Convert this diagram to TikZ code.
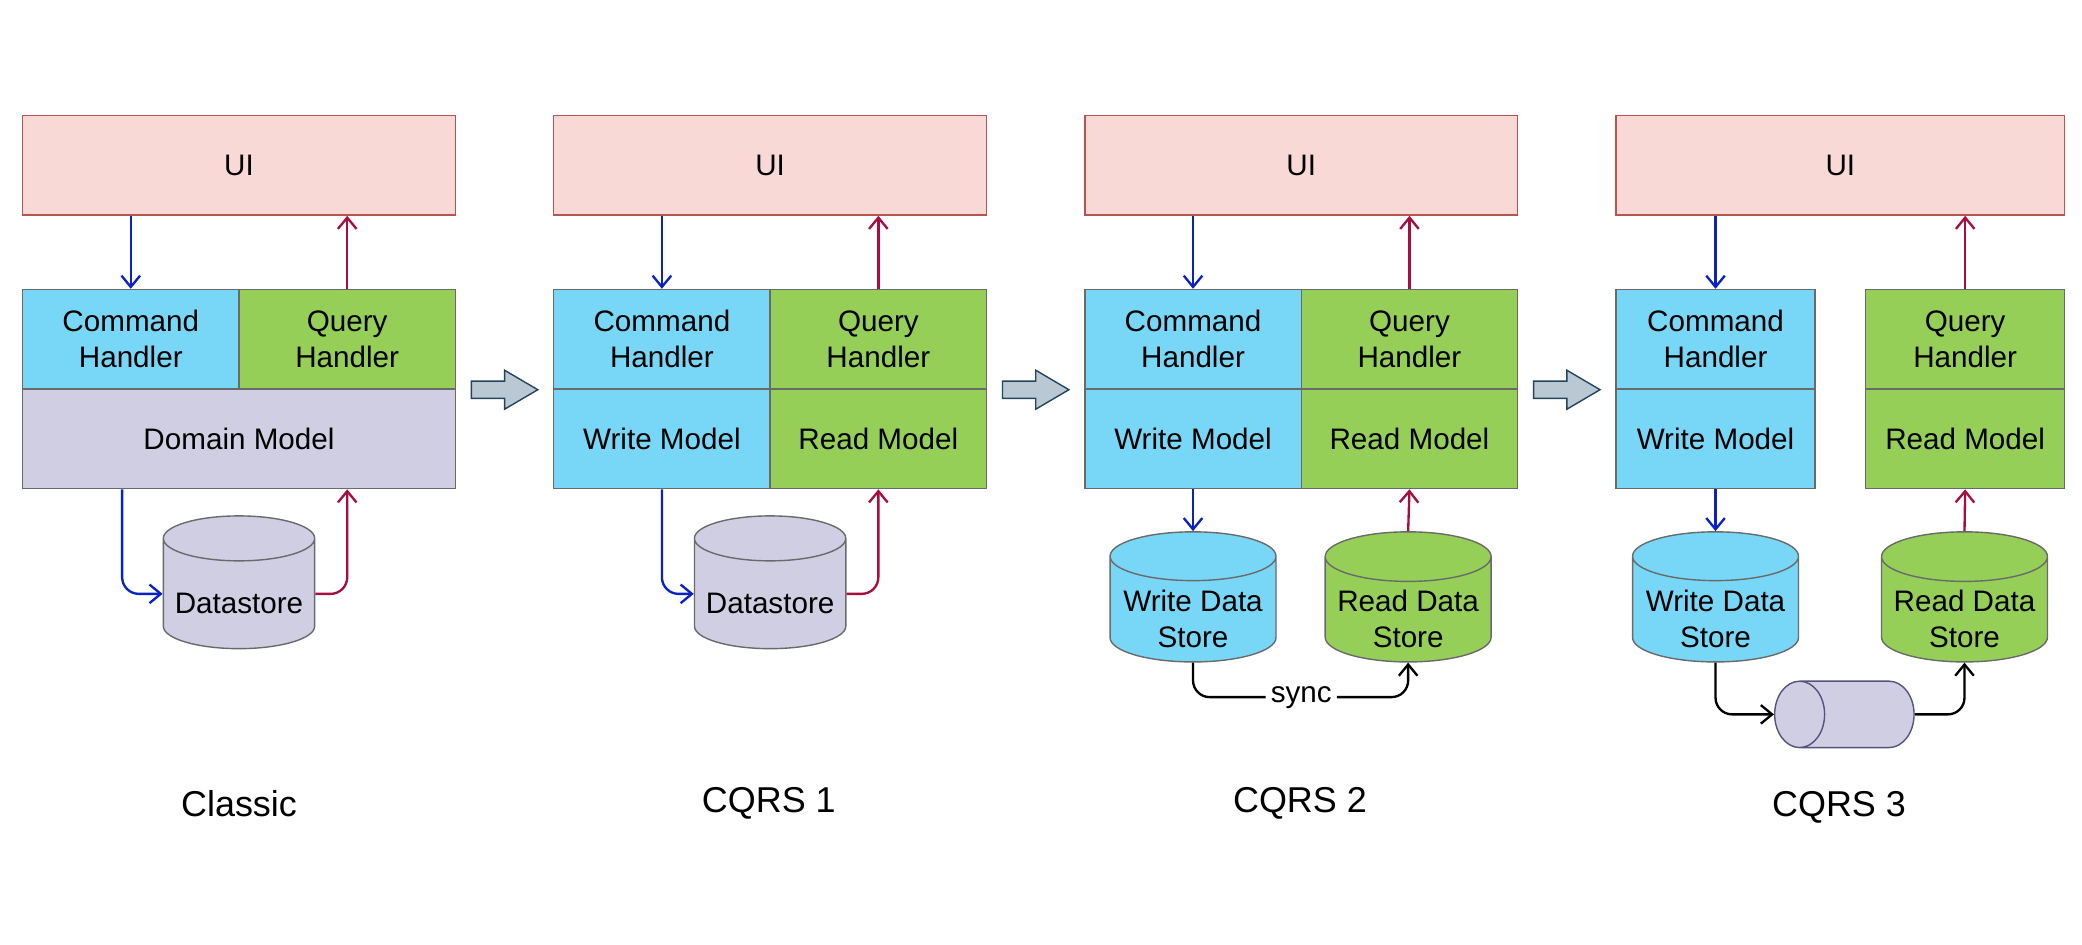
\documentclass[tikz,border=0pt]{standalone}
\usepackage{fontspec}
\setmainfont{Liberation Sans}
\usetikzlibrary{arrows.meta,calc,shapes.geometric}
\definecolor{uifill}{HTML}{F8D9D5}
\definecolor{uiline}{HTML}{B85450}
\definecolor{cmdfill}{HTML}{78D7F7}
\definecolor{qryfill}{HTML}{95CF58}
\definecolor{domfill}{HTML}{D0CEE2}
\definecolor{cellline}{HTML}{6A6A6A}
\definecolor{queueline}{HTML}{56517E}
\definecolor{cmdblue}{HTML}{0A22C4}
\definecolor{qryred}{HTML}{A60E3E}
\definecolor{stepfill}{HTML}{BAC8D3}
\definecolor{stepline}{HTML}{23445D}
\def\blockarrow(#1,#2){\draw[stepshape] (#1,#2) ++(0,-6.5) -- ++(25,0) -- ++(0,-8.2) -- ++(25,14.7) -- ++(-25,14.7) -- ++(0,-8.2) -- ++(-25,0) -- cycle;}
\def\storetext#1{\raisebox{-0.3cm}[0pt][0pt]{\begin{tabular}{@{}c@{}}#1\end{tabular}}}

\tikzset{
  cell/.style={draw=cellline, line width=0.6pt, minimum width=3.26cm, minimum height=1.5cm, inner sep=0pt, align=center, font=\fontsize{12.7}{15.4}\selectfont},
  ui/.style={cell, draw=uiline, fill=uifill, minimum width=6.52cm},
  cmd/.style={cell, fill=cmdfill},
  qry/.style={cell, fill=qryfill},
  store/.style={cylinder, shape border rotate=90, aspect=0.35, anchor=north, draw=cellline, line width=0.6pt, inner sep=0pt, align=center, minimum width=2.5cm, minimum height=1.96cm, font=\fontsize{12.7}{15.4}\selectfont},
  caption/.style={font=\fontsize{15.4}{18}\selectfont},
  cmdarrow/.style={draw=cmdblue, line width=1pt, -{Straight Barb[length=1.7mm,width=2.8mm]}},
  qryarrow/.style={draw=qryred, line width=1pt, -{Straight Barb[length=1.7mm,width=2.8mm]}},
  syncarrow/.style={draw=black, line width=1pt, -{Straight Barb[length=1.7mm,width=2.8mm]}},
  stepshape/.style={draw=stepline, fill=stepfill, line width=0.6pt}
}

\begin{document}
\begin{tikzpicture}[x=0.02cm, y=-0.02cm]
\useasboundingbox (0,0) rectangle (1568,711);

%%%%% Classic %%%%%
\node[ui] (ui1) at (180,124.5) {UI};
\node[cmd] (cmd1) at (98.5,255.5) {Command\\Handler};
\node[qry] (qry1) at (261.5,255.5) {Query\\Handler};
\node[cell, fill=domfill, minimum width=6.52cm] (dom1) at (180,330.5) {Domain Model};
\node[store, fill=domfill, minimum width=2.28cm, minimum height=2cm] (ds1) at (180,388) {\storetext{Datastore}};
\draw[cmdarrow] (cmd1.north |- ui1.south) -- (cmd1.north);
\draw[qryarrow] (qry1.north) -- (qry1.north |- ui1.south);
\draw[cmdarrow, rounded corners=0.25cm] ($(cmd1.center |- dom1.south)+(-6.5,0)$) |- (ds1.west);
\draw[qryarrow, rounded corners=0.25cm] (ds1.east) -| (qry1.center |- dom1.south);
\node[caption] (cap1) at (180,605) {Classic};

\blockarrow(355,293.5)

%%%%% CQRS 1 %%%%%
\node[ui] (ui2) at (580,124.5) {UI};
\node[cmd] (cmd2) at (498.5,255.5) {Command\\Handler};
\node[qry] (qry2) at (661.5,255.5) {Query\\Handler};
\node[cmd] (write2) at (498.5,330.5) {Write Model};
\node[qry] (read2) at (661.5,330.5) {Read Model};
\node[store, fill=domfill, minimum width=2.28cm, minimum height=2cm] (ds2) at (580,388) {\storetext{Datastore}};
\draw[cmdarrow] (cmd2.north |- ui2.south) -- (cmd2.north);
\draw[qryarrow] (qry2.north) -- (qry2.north |- ui2.south);
\draw[cmdarrow, rounded corners=0.25cm] (write2.south) |- (ds2.west);
\draw[qryarrow, rounded corners=0.25cm] (ds2.east) -| (read2.south);
\node[caption] (cap2) at (579,605) {CQRS 1};

\blockarrow(755,293.5)

%%%%% CQRS 2 %%%%%
\node[ui] (ui3) at (980,124.5) {UI};
\node[cmd] (cmd3) at (898.5,255.5) {Command\\Handler};
\node[qry] (qry3) at (1061.5,255.5) {Query\\Handler};
\node[cmd] (write3) at (898.5,330.5) {Write Model};
\node[qry] (read3) at (1061.5,330.5) {Read Model};
\node[store, fill=cmdfill] (wds3) at (898.5,400) {\storetext{Write Data\\Store}};
\node[store, fill=qryfill] (rds3) at (1060.5,400) {\storetext{Read Data\\Store}};
\draw[cmdarrow] (write3.south) -- (wds3.north);
\draw[qryarrow] (rds3.north) -- (read3.south);
\draw[cmdarrow] (cmd3.north |- ui3.south) -- (cmd3.north);
\draw[qryarrow] (qry3.north) -- (qry3.north |- ui3.south);
\node[font=\fontsize{12.7}{15.4}\selectfont, inner sep=2pt] (sync) at (980,525) {sync};
\draw[line width=1pt, rounded corners=0.25cm] (wds3.south) |- (sync.west);
\draw[syncarrow, rounded corners=0.25cm] (sync.east) -| (rds3.south);
\node[caption] (cap3) at (979,605) {CQRS 2};

\blockarrow(1155,293.5)

%%%%% CQRS 3 %%%%%
\node[ui, minimum width=6.76cm] (ui4) at (1386,124.5) {UI};
\node[cmd, minimum width=3cm] (cmd4) at (1292,255.5) {Command\\Handler};
\node[qry, minimum width=3cm] (qry4) at (1480,255.5) {Query\\Handler};
\node[cmd, minimum width=3cm] (write4) at (1292,330.5) {Write Model};
\node[qry, minimum width=3cm] (read4) at (1480,330.5) {Read Model};
\node[store, fill=cmdfill] (wds4) at (1292,400) {\storetext{Write Data\\Store}};
\node[store, fill=qryfill] (rds4) at (1479.5,400) {\storetext{Read Data\\Store}};
\node[cylinder, shape border rotate=180, aspect=1, anchor=west, draw=queueline, fill=domfill, line width=0.6pt, minimum width=1cm, minimum height=2.1cm, inner xsep=0pt, inner ysep=0.376cm] (queue) at (1336,538) {};
\draw[cmdarrow] (cmd4.north |- ui4.south) -- (cmd4.north);
\draw[qryarrow] (qry4.north) -- (qry4.north |- ui4.south);
\draw[cmdarrow] (write4.south) -- (wds4.north);
\draw[qryarrow] (rds4.north) -- (read4.south);
\draw[syncarrow, rounded corners=0.25cm] (wds4.south) |- (queue.west);
\draw[syncarrow, rounded corners=0.25cm] (queue.east) -| (rds4.south);
\node[caption] (cap4) at (1385,608) {CQRS 3};

\end{tikzpicture}
\end{document}
